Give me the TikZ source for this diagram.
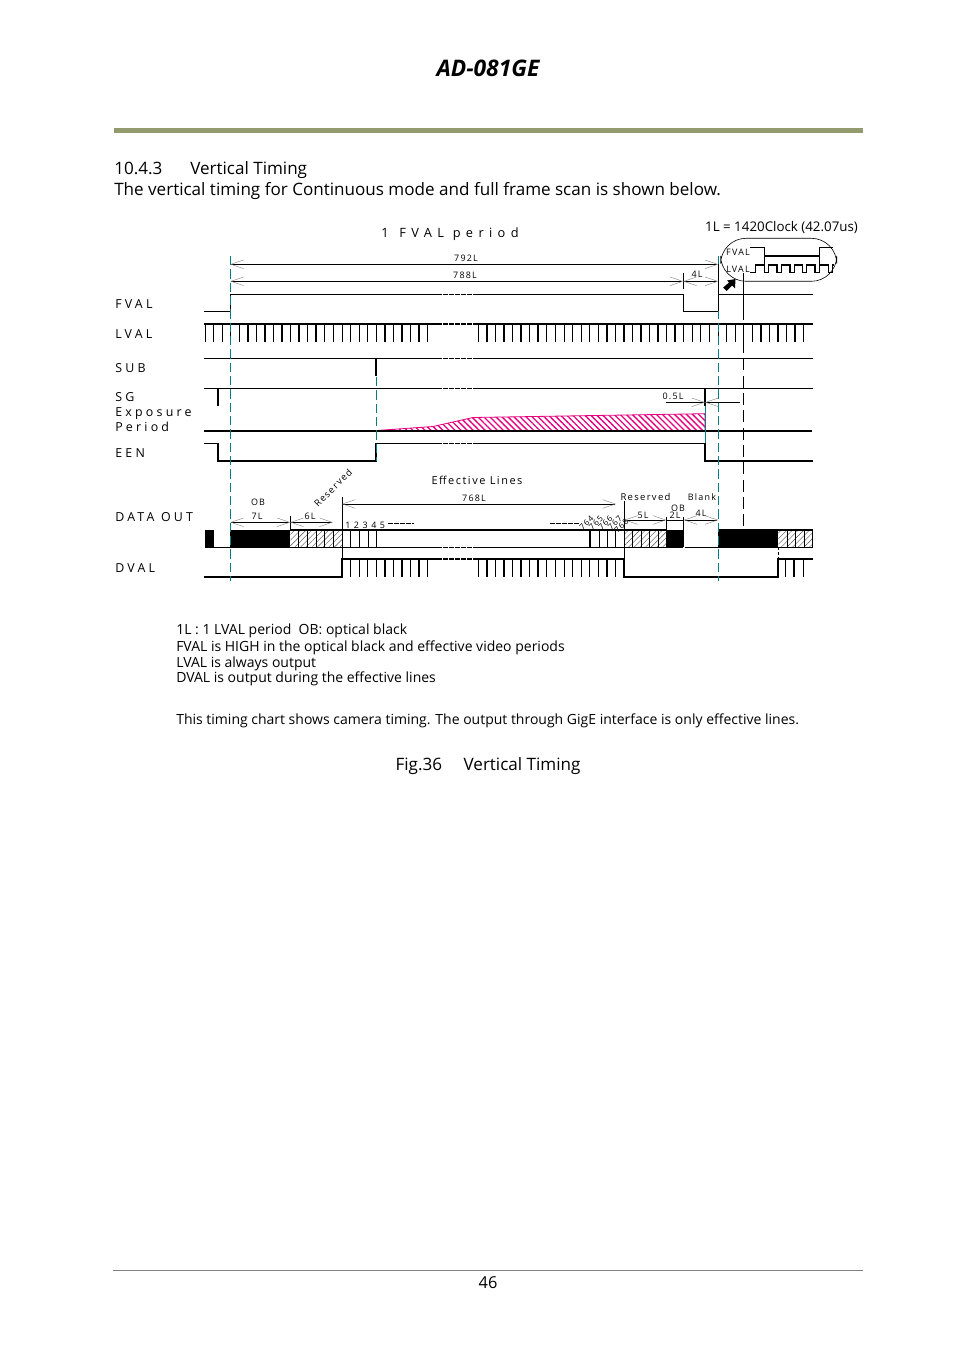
\documentclass[tikz,border=0pt]{standalone}
\usepackage{fontspec}
\setmainfont{Open Sans}
\newfontfamily\sigfont[LetterSpace=26]{Open Sans}
\newfontfamily\widefont[LetterSpace=42]{Open Sans}
\newfontfamily\tagfont[LetterSpace=14]{Open Sans}
\usetikzlibrary{arrows.meta,patterns,patterns.meta}
\definecolor{rulegreen}{RGB}{147,155,110}
\definecolor{marktel}{RGB}{0,128,128}
\definecolor{expink}{RGB}{230,0,126}
\tikzset{
    sig/.style={anchor=west, inner sep=0pt, yshift=-.75pt, font=\sigfont\fontsize{9.3pt}{11pt}\selectfont},
    tag/.style={inner sep=0pt, yshift=-.75pt, font=\tagfont\fontsize{6.7pt}{7pt}\selectfont},
    body/.style={anchor=west, inner sep=0pt, yshift=-1.5pt, font=\fontsize{12.8pt}{15pt}\selectfont},
    note/.style={anchor=west, inner sep=0pt, yshift=-1.5pt, font=\fontsize{10.5pt}{12pt}\selectfont},
    wave/.style={line width=.75pt},
    heavy/.style={line width=1.4pt},
    gapline/.style={line width=.75pt, dash pattern=on 3.5pt off 1pt},
    markline/.style={color=marktel, line width=.7pt, dash pattern=on 7pt off 3pt},
    dimline/.style={line width=.7pt, >={Straight Barb[length=9.5pt,width=6.5pt,line width=.3pt,color=gray]}},
    hatched/.style={pattern={Lines[angle=45,distance=3pt,line width=.3pt]}, pattern color=black!70},
}
\begin{document}
\begin{tikzpicture}[x=.75pt,y=-.75pt]
        \useasboundingbox (0,0) rectangle (954,1351);

        % Page
        \node(title) [inner sep=0pt, font=\bfseries\itshape\fontsize{17.1pt}{20pt}\selectfont] at (488,68.5) {AD-081GE};
        \fill[rulegreen] (114,128) rectangle (863,133);
        \node(section) [body] at (114,166) {10.4.3};
        \node(sectitle) [body] at (190,168) {Vertical Timing};
        \node(intro) [body] at (114,189) {The vertical timing for Continuous mode and full frame scan is shown below.};
        \draw[gray, line width=.5pt] (113,1270) -- (863,1270);
        \node(pagenum) [inner sep=0pt, font=\fontsize{12.3pt}{15pt}\selectfont] at (488,1283) {46};

        % Nodes
        \node(fval) [sig] at (115,303) {FVAL};
        \node(lval) [sig] at (115,333) {LVAL};
        \node(sub) [sig] at (115,367) {SUB};
        \node(sg) [sig] at (115,396) {SG};
        \node(expo) [sig] at (115,413) {Exposure};
        \node(peri) [sig] at (115,426) {Period};
        \node(een) [sig] at (115,452) {EEN};
        \node(data) [sig] at (115,516) {DATA OUT};
        \node(dval) [sig] at (115,567) {DVAL};
        \node(period) [sig, anchor=center, font=\widefont\fontsize{9.6pt}{11pt}\selectfont] at (450,233) {1 \,FVAL period};
        \node(clock) [anchor=center, inner sep=0pt, yshift=-.75pt, font=\fontsize{10pt}{11pt}\selectfont] at (781.5,226) {1L = 1420Clock (42.07us)};
        \node(l792) [tag] at (466,257) {792L};
        \node(l788) [tag] at (465,274) {788L};
        \node(l4a) [tag] at (697,273) {4L};
        \node(l05) [tag] at (673,395) {0.5L};
        \node(efflines) [inner sep=0pt, font=\tagfont\fontsize{8.2pt}{10pt}\selectfont] at (477,480) {Effective Lines};
        \node(l768) [tag] at (474,497) {768L};
        \node(ob1) [tag] at (258,501) {OB};
        \node(l7) [tag] at (257,515) {7L};
        \node(l6) [tag] at (310,515) {6L};
        \node(res1) [tag, rotate=45, font=\tagfont\fontsize{7pt}{8pt}\selectfont] at (333,487) {Reserved};
        \node(count) [tag, anchor=west] at (345,524) {1 2 3 4 5};
        \node(res2) [tag, font=\tagfont\fontsize{7.1pt}{8pt}\selectfont] at (645.5,496) {Reserved};
        \node(blank) [tag] at (702,496) {Blank};
        \node(ob2) [tag] at (678,507) {OB};
        \node(l2) [tag] at (675,514) {2L};
        \node(l5) [tag] at (643,514) {5L};
        \node(l4b) [tag] at (701,512) {4L};
        \foreach \n/\px/\py in {764/586.5/521.5,765/596/521.5,766/605.5/521.5,767/615/521.5,768/621.5/525}
            \node(c\n) [tag, rotate=45, font=\tagfont\fontsize{6pt}{7pt}\selectfont] at (\px,\py) {\n};
        \node(note1) [note] at (176,629) {1L : 1 LVAL period\ \ OB: optical black};
        \node(note2) [note] at (176,646) {FVAL is HIGH in the optical black and effective video periods};
        \node(note3) [note] at (176,662) {LVAL is always output};
        \node(note4) [note] at (176,677) {DVAL is output during the effective lines};
        \node(note5) [note] at (176,719) {This timing chart shows camera timing. The output through GigE interface is only effective lines.};
        \node(fig) [body, anchor=center] at (488,764) {Fig.36\quad\ Vertical Timing};

        % Exposure wedge
        \draw[expink, line width=.6pt, pattern={Lines[angle=-45,distance=3.2pt,line width=1pt]}, pattern color=expink]
            (376.5,430.5) -- (433,426.5) -- (473,417.5) -- (705,413.7) -- (705,430.5) -- cycle;

        % FVAL
        \draw[wave] (204,311.3) -- (230,311.3) -- (230,294.3) -- (437,294.3);
        \draw[gapline] (437,294.3) -- (477,294.3);
        \draw[wave] (477,294.3) -- (683,294.3) -- (683,311.3) -- (718,311.3) -- (718,294.3) -- (813,294.3);

        % LVAL
        \draw[heavy] (204,324) -- (437,324);
        \draw[heavy, dash pattern=on 3.5pt off 1pt] (437,324) -- (477,324);
        \draw[heavy] (477,324) -- (813,324);
        \foreach \i in {0,...,26}
            \draw[line width={ifthenelse(mod(\i,2)==1,1.2,.6)*1pt}] ({205+\i*8.56},324) -- ++(0,18);
        \foreach \i in {0,...,38}
            \draw[line width={ifthenelse(mod(\i,2)==1,1.2,.6)*1pt}] ({478.3+\i*8.56},324) -- ++(0,18);

        % SUB and SG
        \draw[wave] (204,358.3) -- (437,358.3);
        \draw[gapline] (437,358.3) -- (477,358.3);
        \draw[wave] (477,358.3) -- (813,358.3);
        \draw[heavy] (376,358.3) -- (376,376);
        \draw[wave] (204,388.3) -- (437,388.3);
        \draw[gapline] (437,388.3) -- (477,388.3);
        \draw[wave] (477,388.3) -- (813,388.3);
        \draw[heavy] (218,388.3) -- (218,405.7);
        \draw[heavy] (705,388.3) -- (705,405.7);

        % Exposure and EEN
        \draw[heavy] (204,430.7) -- (812,430.7);
        \draw[wave] (204,443.3) -- (218,443.3);
        \draw[heavy] (218,443.3) -- (218,460.7) -- (376,460.7) -- (376,443.3);
        \draw[wave] (376,443.3) -- (437,443.3);
        \draw[gapline] (437,443.3) -- (477,443.3);
        \draw[wave] (477,443.3) -- (705,443.3);
        \draw[heavy] (705,443.3) -- (705,460.7) -- (813,460.7);

        % DATA OUT
        \fill (205,530) rectangle (213.7,547.3);
        \fill (230,530) rectangle (290.3,547.3);
        \fill (666.3,530) rectangle (683.7,547.3);
        \fill (718,530) rectangle (778.3,547.3);
        \path[hatched] (290.3,530) rectangle (342,547.3);
        \path[hatched] (624.3,530) rectangle (666.3,547.3);
        \path[hatched] (778.3,530) rectangle (812.7,547.3);
        \draw[heavy] (290,530) -- (666,530);
        \draw[heavy] (718,530) -- (813,530);
        \draw[wave] (205,547.3) -- (437,547.3);
        \draw[gapline] (437,547.3) -- (477,547.3);
        \draw[wave] (477,547.3) -- (683,547.3);
        \draw[wave] (685,547.3) -- (813,547.3);
        \foreach \px in {298.9,307.5,316,324.6,333.2,342,350.7,359.3,368,376.5,590,599,607.3,615.7,632.7,641.3,649.7,658,787,795.5,804.2,812.7}
            \draw[wave] (\px,530) -- (\px,547.3);
        \draw[heavy] (590,530) -- (590,547.3);
        \draw[gapline] (388,523) -- (414,523);
        \draw[gapline] (550,523) -- (580,523);

        % DVAL
        \draw[heavy] (204,576.7) -- (342,576.7) -- (342,559.3) -- (437,559.3);
        \draw[heavy, dash pattern=on 3.5pt off 1pt] (437,559.3) -- (477,559.3);
        \draw[heavy] (477,559.3) -- (624.3,559.3) -- (624.3,576.7) -- (778,576.7) -- (778,559.3) -- (813,559.3);
        \draw[wave, dash pattern=on 2pt off 1.5pt] (778,547.3) -- (778,559.3);
        \foreach \i in {1,...,10}
            \draw[line width={ifthenelse(mod(\i,2)==1,1.2,.6)*1pt}] ({342+\i*8.54},559.3) -- ++(0,17.4);
        \foreach \i in {0,...,16}
            \draw[line width={ifthenelse(mod(\i,2)==1,1.2,.6)*1pt}] ({478.3+\i*8.56},559.3) -- ++(0,17.4);
        \foreach \px in {785.3,794,803.3}
            \draw[line width=.9pt] (\px,559.3) -- ++(0,17.4);

        % Markers
        \draw[markline] (230.3,256) -- (230.3,581);
        \draw[markline] (718.3,256) -- (718.3,581);
        \draw[markline] (376.3,377) -- (376.3,461);
        \draw[marktel, line width=.7pt] (705.3,406) -- (705.3,443);
        \draw[wave] (743.3,273) -- (743.3,320);
        \draw[line width=.8pt, dash pattern=on 9pt off 4pt] (743.3,341) -- (743.3,526);
        \draw[wave] (718.3,264) -- (718.3,311);
        \draw[wave] (683.3,273) -- (683.3,289);
        \draw[wave] (342,497) -- (342,577);
        \draw[wave] (290.3,516) -- (290.3,530);
        \draw[wave] (624.3,501) -- (624.3,577);
        \draw[wave] (666.3,517) -- (666.3,530);
        \draw[wave] (683.7,517) -- (683.7,530);

        % Dimension arrows
        \draw[dimline,<->] (230.3,264.3) -- (718.3,264.3);
        \draw[dimline,<->] (230.3,281.3) -- (683.3,281.3);
        \draw[dimline,<->] (683.3,281.3) -- (718.3,281.3);
        \draw[dimline,->] (666,402.3) -- (705,402.3);
        \draw[dimline,->] (740,402.3) -- (705,402.3);
        \draw[dimline,<->] (230.3,522.3) -- (290.3,522.3);
        \draw[dimline,<->] (290.3,522.3) -- (332.7,522.3);
        \draw[dimline,<->] (342,504) -- (616,504);
        \draw[dimline,<->] (624.3,520) -- (666.3,520);
        \draw[wave] (666.3,520) -- (683.7,520);
        \draw[dimline,<->] (683.7,520) -- (718.3,520);

        % Balloon
        \draw[fill=white, line width=.45pt, rounded corners=19pt] (720.7,238.3) rectangle (836.7,281.3);
        \node(bfval) [tag] at (738,251) {FVAL};
        \node(blval) [tag] at (738,268) {LVAL};
        \draw[wave] (750,247.3) -- (764.3,247.3) -- (764.3,272);
        \draw[heavy] (764.3,255.7) -- (819.3,255.7);
        \draw[wave] (819.3,272) -- (819.3,247.3) -- (833.3,247.3);
        \draw[line width=.9pt] (750,272.7) -- (755.7,272.7) -- (755.7,265) -- (764.3,265) -- (764.3,272.7)
            -- (768.3,272.7) -- (768.3,265) -- (777,265) -- (777,272.7)
            -- (781.7,272.7) -- (781.7,265) -- (790,265) -- (790,272.7)
            -- (794.3,272.7) -- (794.3,265) -- (802.7,265) -- (802.7,272.7)
            -- (806.7,272.7) -- (806.7,265) -- (815,265) -- (815,272.7)
            -- (819.3,272.7) -- (819.3,265) -- (828.3,265) -- (828.3,272.7)
            -- (832.3,272.7) -- (832.3,265) -- (834.3,265);
        \draw[wave] (743.3,273) -- (743.3,281.3);
        \fill (735.5,279) -- (735,288.5) -- (732,285.5) -- (726.7,291) -- (723.2,287.5) -- (729,282.5) -- (727,280.5) -- cycle;

    \end{tikzpicture}
\end{document}
